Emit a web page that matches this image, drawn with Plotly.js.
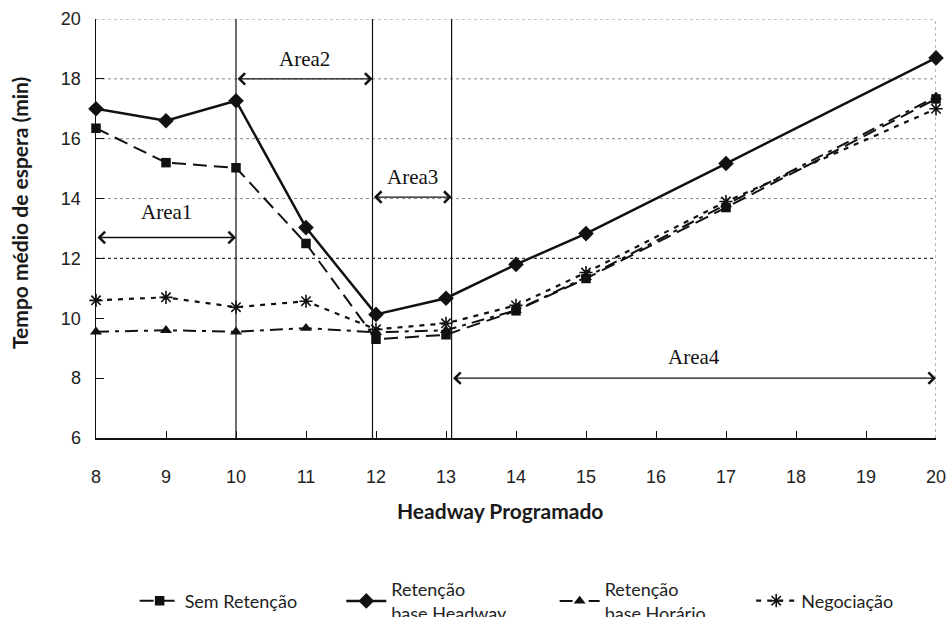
<!DOCTYPE html>
<html>
<head>
<meta charset="utf-8">
<script src="https://cdn.plot.ly/plotly-3.0.1.min.js"></script>
<style>
  html, body { margin: 0; padding: 0; background: #fff; }
  #chart { width: 951px; height: 617px; }
</style>
</head>
<body>
<div id="chart"></div>
<script>
// Headway programado (min)
const headway = [8, 9, 10, 11, 12, 13, 14, 15, 17, 20];

// Tempo médio de espera (min) por estratégia
const semRetencao     = [16.35, 15.2, 15.03, 12.5, 9.3, 9.45, 10.25, 11.33, 13.7, 17.33];
const retHeadway      = [17.0, 16.6, 17.27, 13.03, 10.13, 10.67, 11.8, 12.83, 15.17, 18.7];
const retHorario      = [9.55, 9.6, 9.55, 9.67, 9.53, 9.6, 10.27, 11.37, 13.8, 17.4];
const negociacao      = [10.6, 10.7, 10.37, 10.57, 9.63, 9.83, 10.43, 11.53, 13.9, 17.0];

const seriesNames = ['Sem Retenção', 'Retenção<br>base Headway', 'Retenção<br>base Horário', 'Negociação'];

// Zonas de operação
const areaNames  = ['Area1', 'Area2', 'Area3', 'Area4'];
const areaStart  = [8, 10, 11.95, 13.08];
const areaEnd    = [10, 11.95, 13.08, 20];
const areaArrowY = [12.7, 18.0, 14.05, 8.0];
const areaLabelY = [13.55, 18.68, 14.73, 8.72];

const xTicks = [8, 9, 10, 11, 12, 13, 14, 15, 16, 17, 18, 19, 20];
const gridLevels = [14, 16, 18, 20];

const xTitle = 'Headway Programado';
const yTitle = 'Tempo médio de espera (min)';

const ink = '#111';

function series(y, name, symbol, size, dash, width, legendId) {
  return {
    x: headway, y: y, name: name, type: 'scatter', mode: 'lines+markers',
    cliponaxis: false, legend: legendId,
    line: { color: ink, width: width, dash: dash },
    marker: { symbol: symbol, size: size, color: ink, line: { color: ink, width: symbol === 'asterisk-open' ? 1.6 : 0 } }
  };
}

const traces = [
  series(semRetencao, seriesNames[0], 'square', 9.5, '14px,7px', 2, 'legend'),
  series(retHeadway, seriesNames[1], 'diamond', 12, 'solid', 2.5, 'legend2'),
  series(retHorario, seriesNames[2], 'triangle-up', 10.5, '13px,6px,4px,6px', 2, 'legend3'),
  series(negociacao, seriesNames[3], 'asterisk-open', 11, '5px,6px', 2.2, 'legend4')
];

const shapes = [];
// horizontal reference lines
gridLevels.forEach(v => shapes.push({
  type: 'line', xref: 'x', yref: 'y', x0: 8, x1: 20, y0: v, y1: v,
  line: { color: '#8a8a8a', width: 1, dash: 'dot' }, layer: 'below'
}));
shapes.push({ type: 'line', xref: 'x', yref: 'y', x0: 8, x1: 20, y0: 12, y1: 12,
  line: { color: '#333', width: 1.2, dash: 'dot' }, layer: 'below' });
// right frame
shapes.push({ type: 'line', xref: 'x', yref: 'y', x0: 20, x1: 20, y0: 6, y1: 20,
  line: { color: '#8a8a8a', width: 1.2, dash: 'dot' }, layer: 'below' });
// zone boundaries
[10, 11.95, 13.08].forEach(v => shapes.push({
  type: 'line', xref: 'x', yref: 'y', x0: v, x1: v, y0: 6, y1: 20,
  line: { color: ink, width: 1.2 }, layer: 'below'
}));

const annotations = [];
areaNames.forEach((name, i) => {
  annotations.push({
    xref: 'x', yref: 'y', axref: 'x', ayref: 'y',
    x: areaEnd[i], y: areaArrowY[i], ax: areaStart[i], ay: areaArrowY[i],
    text: '', showarrow: true, arrowside: 'end+start', arrowhead: 4, arrowsize: 1.6,
    arrowwidth: 1.4, arrowcolor: ink, standoff: 0, startstandoff: 0
  });
  annotations.push({
    xref: 'x', yref: 'y', x: (areaStart[i] + areaEnd[i]) / 2, y: areaLabelY[i],
    text: name, showarrow: false,
    font: { family: 'Liberation Serif, Times New Roman, serif', size: 21, color: ink }
  });
});

// axis titles
annotations.push({
  xref: 'paper', yref: 'paper', x: 0.481, y: -0.174, xanchor: 'center', yanchor: 'middle',
  text: '<b>' + xTitle + '</b>', showarrow: false,
  font: { family: 'Lato, sans-serif', size: 21, color: '#1a1a1a' }
});
annotations.push({
  xref: 'paper', yref: 'paper', x: -0.0905, y: 0.537, xanchor: 'center', yanchor: 'middle',
  textangle: -90, text: '<b>' + yTitle + '</b>', showarrow: false,
  font: { family: 'Lato, sans-serif', size: 21, color: '#1a1a1a' }
});

const legendBase = {
  orientation: 'h', y: -0.389, yanchor: 'middle', xanchor: 'left',
  bgcolor: 'rgba(0,0,0,0)', borderwidth: 0, itemwidth: 40,
  font: { family: 'Lato, sans-serif', size: 18, color: '#222' }
};

const layout = {
  width: 951, height: 617,
  margin: { l: 96, r: 15, t: 19, b: 179, pad: 0, autoexpand: false },
  paper_bgcolor: '#fff', plot_bgcolor: '#fff',
  showlegend: true,
  xaxis: {
    range: [8, 20], tickvals: xTicks, ticktext: xTicks.map(String),
    ticks: 'inside', ticklen: 7, tickwidth: 1, tickcolor: ink,
    showline: true, linecolor: ink, linewidth: 1.5, mirror: false,
    showgrid: false, zeroline: false, ticklabelstandoff: 22,
    tickfont: { family: 'Liberation Sans, Arial, sans-serif', size: 18, color: '#222' }
  },
  yaxis: {
    range: [6, 20], dtick: 2, tick0: 6,
    ticks: 'inside', ticklen: 8, tickwidth: 1, tickcolor: ink,
    showline: true, linecolor: ink, linewidth: 1.5,
    showgrid: false, zeroline: false, ticklabelstandoff: 10,
    tickfont: { family: 'Liberation Sans, Arial, sans-serif', size: 18, color: '#222' }
  },
  legend:  Object.assign({}, legendBase, { x: 0.046 }),
  legend2: Object.assign({}, legendBase, { x: 0.292 }),
  legend3: Object.assign({}, legendBase, { x: 0.546 }),
  legend4: Object.assign({}, legendBase, { x: 0.78 }),
  shapes: shapes,
  annotations: annotations
};

Plotly.newPlot('chart', traces, layout, { displayModeBar: false, staticPlot: true });
</script>
</body>
</html>
